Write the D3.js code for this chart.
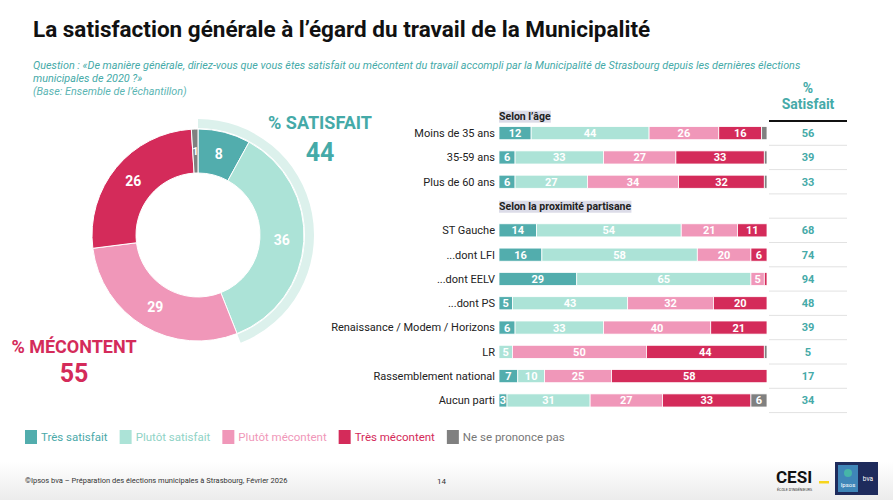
<!DOCTYPE html>
<html>
<head>
<meta charset="utf-8">
<script src="https://cdn.jsdelivr.net/npm/d3@7"></script>
<style>
  body { margin: 0; background: #fff; }
  svg { display: block; font-family: "Liberation Sans Narrow", "Roboto", sans-serif; }
</style>
</head>
<body>
<svg id="chart" width="893" height="500"></svg>
<script>
// données
var categories = ["Très satisfait", "Plutôt satisfait", "Plutôt mécontent", "Très mécontent", "Ne se prononce pas"];
var colors = ["#52adad", "#ace3d7", "#f097b9", "#d42b5a", "#808080"];
var legendColors = ["#4aa9a9", "#8fd3c6", "#f097b9", "#d42b5a", "#808080"];
var totalValues = [8, 36, 29, 26, 1];
var totalSatisfait = 44;
var totalMecontent = 55;

var rowLabels = ["Moins de 35 ans", "35-59 ans", "Plus de 60 ans",
  "ST Gauche", "...dont LFI", "...dont EELV", "...dont PS",
  "Renaissance / Modem / Horizons", "LR", "Rassemblement national", "Aucun parti"];
var tresSatisfait =    [12, 6, 6, 14, 16, 29, 5, 6, 0, 7, 3];
var plutotSatisfait =  [44, 33, 27, 54, 58, 65, 43, 33, 5, 10, 31];
var plutotMecontent =  [26, 27, 34, 21, 20, 5, 32, 40, 50, 25, 27];
var tresMecontent =    [16, 33, 32, 11, 6, 1, 20, 21, 44, 58, 33];
var nsp =              [2, 1, 1, 0, 0, 0, 0, 0, 1, 0, 6];
var pctSatisfait =     [56, 39, 33, 68, 74, 94, 48, 39, 5, 17, 34];

var svg = d3.select("#chart");
var teal = "#45aaa8";
var red = "#d42b5a";

// titre
svg.append("text")
  .attr("x", 33).attr("y", 37)
  .attr("font-size", "22.5px").attr("font-weight", "bold").attr("fill", "#111")
  .text("La satisfaction générale à l’égard du travail de la Municipalité");

var qLines = [
  "Question : «De manière générale, diriez-vous que vous êtes satisfait ou mécontent du travail accompli par la Municipalité de Strasbourg depuis les dernières élections",
  "municipales de 2020 ?»",
  "(Base: Ensemble de l’échantillon)"
];
qLines.forEach(function (t, i) {
  svg.append("text")
    .attr("x", 33).attr("y", 69 + i * 13)
    .attr("font-size", "10.8px").attr("font-style", "italic")
    .attr("fill", i == 2 ? "#5bb5b3" : teal)
    .text(t);
});

// donut
var cx = 198, cy = 235;
var g = svg.append("g").attr("transform", "translate(" + cx + "," + cy + ")");

var pie = d3.pie().value(function (d) { return d; }).sort(null);
var arcs = pie(totalValues);
var arc = d3.arc().innerRadius(62).outerRadius(106);
var labelArc = d3.arc().innerRadius(84).outerRadius(84);

// anneau % satisfait
g.append("path")
  .attr("d", d3.arc().innerRadius(107).outerRadius(116)
    .startAngle(0).endAngle(2 * Math.PI * totalSatisfait / 100)())
  .attr("fill", "#dcf1ec");

g.selectAll(".slice")
  .data(arcs)
  .enter()
  .append("path")
  .attr("class", "slice")
  .attr("d", arc)
  .attr("fill", function (d) { return colors[d.index]; })
  .attr("stroke", "white")
  .attr("stroke-width", 1);

g.selectAll(".slabel")
  .data(arcs)
  .enter()
  .append("text")
  .attr("class", "slabel")
  .attr("transform", function (d) { return "translate(" + labelArc.centroid(d) + ")"; })
  .attr("dy", "0.35em")
  .attr("text-anchor", "middle")
  .attr("font-family", "Roboto, sans-serif")
  .attr("font-weight", "bold")
  .attr("font-size", function (d) { return d.data < 3 ? "11px" : "14px"; })
  .attr("fill", "white")
  .text(function (d) { return d.data; });

svg.append("text").attr("x", 320).attr("y", 129)
  .attr("text-anchor", "middle").attr("font-family", "Roboto, sans-serif")
  .attr("font-weight", "bold").attr("font-size", "18px").attr("fill", teal)
  .text("% SATISFAIT");
svg.append("text").attr("x", 320).attr("y", 161)
  .attr("text-anchor", "middle").attr("font-family", "Roboto, sans-serif")
  .attr("font-weight", "bold").attr("font-size", "25px").attr("fill", teal)
  .text(totalSatisfait);
svg.append("text").attr("x", 74).attr("y", 353)
  .attr("text-anchor", "middle").attr("font-family", "Roboto, sans-serif")
  .attr("font-weight", "bold").attr("font-size", "18px").attr("fill", red)
  .text("% MÉCONTENT");
svg.append("text").attr("x", 74).attr("y", 382)
  .attr("text-anchor", "middle").attr("font-family", "Roboto, sans-serif")
  .attr("font-weight", "bold").attr("font-size", "25px").attr("fill", red)
  .text(totalMecontent);

// barres empilées
var rowKeys = rowLabels.slice(0, 3).concat(["__gap"], rowLabels.slice(3));
var y = d3.scaleBand().domain(rowKeys).range([121, 412.6])
  .paddingInner(0.46).paddingOuter(0.23);
var x = d3.scaleLinear().domain([0, 100]).range([499, 767]);

var rows = rowLabels.map(function (name, i) {
  return { name: name, v: [tresSatisfait[i], plutotSatisfait[i], plutotMecontent[i], tresMecontent[i], nsp[i]], sat: pctSatisfait[i] };
});

var stackData = rows.map(function (r) {
  var o = { name: r.name };
  categories.forEach(function (c, k) { o[c] = r.v[k]; });
  return o;
});
var series = d3.stack().keys(categories)(stackData);

var bars = svg.append("g");
series.forEach(function (s, k) {
  bars.selectAll(".seg" + k)
    .data(s)
    .enter()
    .append("rect")
    .attr("x", function (d) { return x(d[0]); })
    .attr("y", function (d) { return y(d.data.name); })
    .attr("width", function (d) { return Math.max(0, x(d[1]) - x(d[0])); })
    .attr("height", y.bandwidth())
    .attr("fill", colors[k])
    .attr("stroke", "white")
    .attr("stroke-width", 0.8);
  bars.selectAll(".lab" + k)
    .data(s.filter(function (d) { return d[1] - d[0] >= 3; }))
    .enter()
    .append("text")
    .attr("x", function (d) { return (x(d[0]) + x(d[1])) / 2; })
    .attr("y", function (d) { return y(d.data.name) + y.bandwidth() / 2; })
    .attr("dy", "0.36em")
    .attr("text-anchor", "middle")
    .attr("font-family", "Roboto, sans-serif")
    .attr("font-weight", "bold")
    .attr("font-size", "11px")
    .attr("fill", "white")
    .text(function (d) { return d[1] - d[0]; });
});

// libellés des lignes
svg.append("g").selectAll("text")
  .data(rowLabels)
  .enter()
  .append("text")
  .attr("x", 495)
  .attr("y", function (d) { return y(d) + y.bandwidth() / 2; })
  .attr("dy", "0.35em")
  .attr("text-anchor", "end")
  .attr("font-family", "Roboto, sans-serif")
  .attr("font-size", "11px")
  .attr("fill", "#222")
  .text(function (d) { return d; });

// titres de section
[["Selon l’âge", 116], ["Selon la proximité partisane", y("__gap") + y.bandwidth() / 2]].forEach(function (h) {
  var t = svg.append("text")
    .attr("x", 499).attr("y", h[1]).attr("dy", "0.35em")
    .attr("font-family", "Roboto, sans-serif")
    .attr("font-weight", "bold").attr("font-size", "10.5px").attr("fill", "#222")
    .text(h[0]);
  var bb = t.node().getBBox();
  svg.insert("rect", "text")
    .attr("x", bb.x).attr("y", bb.y + 1).attr("width", bb.width).attr("height", bb.height - 1)
    .attr("fill", "#dcdce8");
});

// colonne % satisfait
var colX = 808;
svg.append("text").attr("x", colX).attr("y", 93).attr("text-anchor", "middle")
  .attr("font-family", "Roboto, sans-serif").attr("font-weight", "bold")
  .attr("font-size", "14px").attr("fill", teal).text("%");
svg.append("text").attr("x", colX).attr("y", 109).attr("text-anchor", "middle")
  .attr("font-family", "Roboto, sans-serif").attr("font-weight", "bold")
  .attr("font-size", "14px").attr("fill", teal).text("Satisfait");
svg.append("line").attr("x1", 769).attr("x2", 847).attr("y1", 121).attr("y2", 121)
  .attr("stroke", "#111").attr("stroke-width", 2);

var sepYs = rowLabels.map(function (d) { return y(d) + y.bandwidth() / 2 + y.step() / 2; });
sepYs.push(y(rowLabels[3]) + y.bandwidth() / 2 - y.step() / 2);
svg.append("g").selectAll("line")
  .data(sepYs)
  .enter()
  .append("line")
  .attr("x1", 769).attr("x2", 847)
  .attr("y1", function (d) { return d; }).attr("y2", function (d) { return d; })
  .attr("stroke", "#e2e2e2").attr("stroke-width", 1);

svg.append("g").selectAll("text")
  .data(rows)
  .enter()
  .append("text")
  .attr("x", colX)
  .attr("y", function (d) { return y(d.name) + y.bandwidth() / 2; })
  .attr("dy", "0.35em")
  .attr("text-anchor", "middle")
  .attr("font-family", "Roboto, sans-serif")
  .attr("font-weight", "bold")
  .attr("font-size", "11px")
  .attr("fill", teal)
  .text(function (d) { return d.sat; });

// légende
var lx = 25;
var legend = svg.append("g");
categories.forEach(function (c, k) {
  legend.append("rect")
    .attr("x", lx).attr("y", 430).attr("width", 12).attr("height", 14)
    .attr("fill", colors[k]);
  var t = legend.append("text")
    .attr("x", lx + 16).attr("y", 437).attr("dy", "0.35em")
    .attr("font-size", "11.5px")
    .attr("fill", k == 4 ? "#777" : legendColors[k])
    .text(c);
  lx = lx + 16 + t.node().getComputedTextLength() + 12;
});

// pied de page
var defs = svg.append("defs");
var grad = defs.append("linearGradient").attr("id", "foot").attr("x1", 0).attr("x2", 0).attr("y1", 0).attr("y2", 1);
grad.append("stop").attr("offset", "0").attr("stop-color", "#fff");
grad.append("stop").attr("offset", "1").attr("stop-color", "#ececec");
svg.insert("rect", ":first-child").attr("x", 0).attr("y", 462).attr("width", 893).attr("height", 38).attr("fill", "url(#foot)");

svg.append("text").attr("x", 25).attr("y", 483)
  .attr("font-size", "7.5px").attr("fill", "#333")
  .text("©Ipsos bva – Préparation des élections municipales à Strasbourg, Février 2026");
svg.append("text").attr("x", 437).attr("y", 484)
  .attr("font-size", "8px").attr("fill", "#333").text("14");

// logos
svg.append("text").attr("x", 776).attr("y", 483)
  .attr("font-family", "Roboto, sans-serif").attr("font-weight", "bold")
  .attr("font-size", "17px").attr("fill", "#111").text("CESI");
svg.append("rect").attr("x", 819).attr("y", 481).attr("width", 10).attr("height", 2.5).attr("fill", "#f7d51d");
svg.append("text").attr("x", 777).attr("y", 491)
  .attr("font-family", "Roboto, sans-serif").attr("font-size", "3.6px").attr("fill", "#333")
  .text("ÉCOLE D’INGÉNIEURS");
svg.append("rect").attr("x", 835).attr("y", 462).attr("width", 43).attr("height", 33).attr("fill", "#1e2b5c");
svg.append("rect").attr("x", 838).attr("y", 465).attr("width", 20).attr("height", 27).attr("fill", "#3f86b8");
svg.append("circle").attr("cx", 848).attr("cy", 473).attr("r", 4).attr("fill", "#46b5a8");
svg.append("text").attr("x", 848).attr("y", 487).attr("text-anchor", "middle")
  .attr("font-family", "Roboto, sans-serif").attr("font-size", "6px").attr("fill", "#fff").text("Ipsos");
svg.append("text").attr("x", 868).attr("y", 481).attr("text-anchor", "middle")
  .attr("font-family", "Roboto, sans-serif").attr("font-size", "6.5px").attr("fill", "#fff").text("bva");
</script>
</body>
</html>
